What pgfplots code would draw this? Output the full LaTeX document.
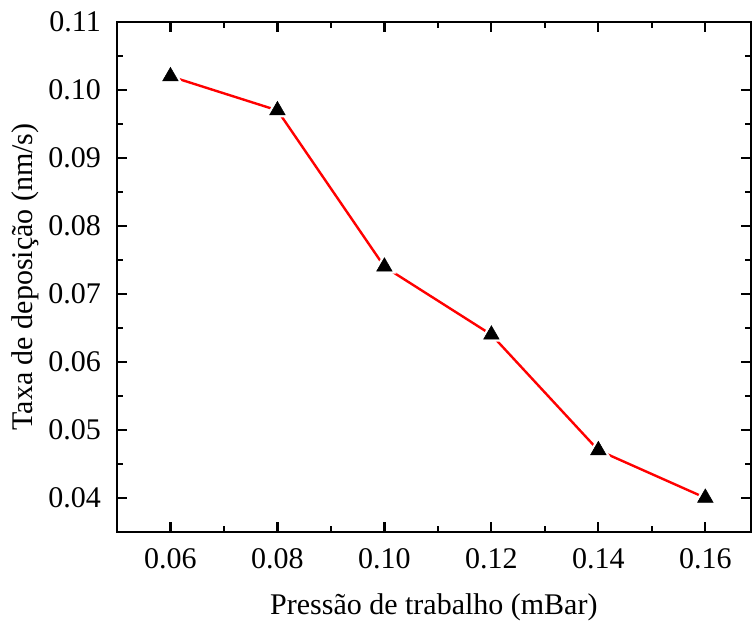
\documentclass[border=0pt]{standalone}
\usepackage{fontspec}
\setmainfont{Liberation Serif}
\usepackage{pgfplots}
\pgfplotsset{compat=1.18}

\begin{document}
\fontsize{30}{36}\selectfont
\begin{tikzpicture}
\begin{axis}[
  name=ax,
  scale only axis,
  width=634pt,
  height=510pt,
  xmin=0.05, xmax=0.1685,
  ymin=0.035, ymax=0.11,
  xtick={0.06,0.08,0.10,0.12,0.14,0.16},
  ytick={0.04,0.05,0.06,0.07,0.08,0.09,0.10,0.11},
  minor x tick num=1,
  minor y tick num=1,
  tick align=inside,
  major tick length=10pt,
  minor tick length=6pt,
  axis line style={line width=2.4pt},
  every tick/.style={black, line width=2.2pt},
  /pgf/number format/.cd, fixed, fixed zerofill, precision=2, assume math mode=true,
  /pgfplots/.cd,
  tick label style={font=\fontsize{30}{36}\selectfont},
  label style={font=\fontsize{30}{36}\selectfont},
  xticklabel style={yshift=-7pt},
  yticklabel style={xshift=-6pt},
  xlabel={Pressão de trabalho (mBar)},
  ylabel={Taxa de deposição (nm/s)},
  xlabel style={at={(axis description cs:0.5,-0.147)}, anchor=center},
  ylabel style={at={(axis description cs:-0.145,0.5)}, anchor=center},
  clip=false,
]
\addplot[red, line width=2.4pt] coordinates {
  (0.06,0.102) (0.08,0.097) (0.10,0.074) (0.12,0.064) (0.14,0.047) (0.16,0.040)
};
\addplot[only marks, mark=triangle*, mark size=9pt, mark options={draw=white, fill=white, line width=5pt}] coordinates {
  (0.06,0.102) (0.08,0.097) (0.10,0.074) (0.12,0.064) (0.14,0.047) (0.16,0.040)
};
\addplot[only marks, mark=triangle*, mark size=9pt, mark options={draw=black, fill=black, line width=0.5pt}] coordinates {
  (0.06,0.102) (0.08,0.097) (0.10,0.074) (0.12,0.064) (0.14,0.047) (0.16,0.040)
};
\end{axis}
\path ([shift={(-117pt,-94pt)}]ax.south west) rectangle ([shift={(1pt,22pt)}]ax.north east);
\end{tikzpicture}
\end{document}
